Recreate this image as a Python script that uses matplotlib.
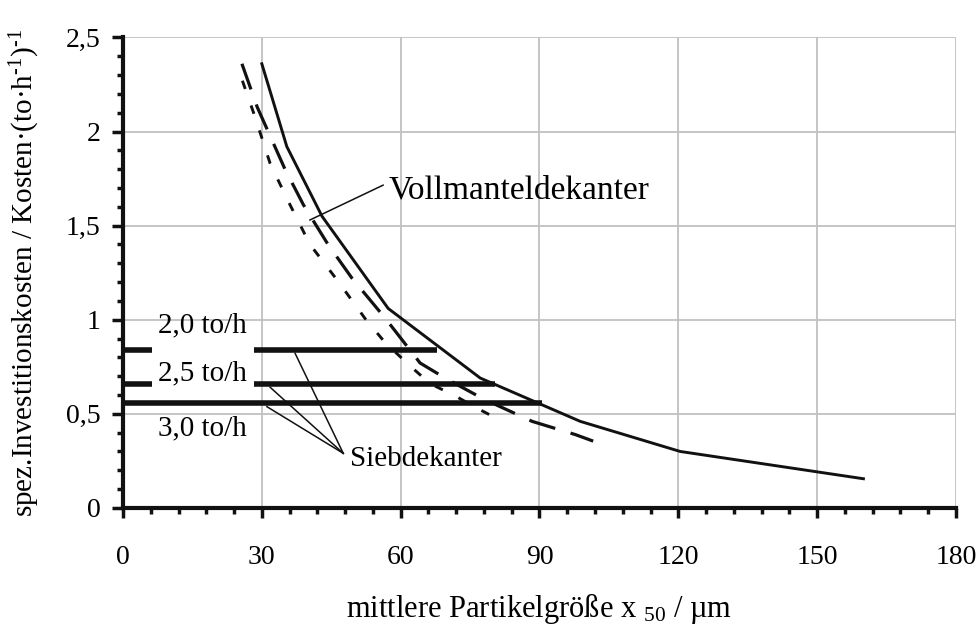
import matplotlib
matplotlib.use("Agg")
import matplotlib.pyplot as plt
from matplotlib.ticker import MultipleLocator

plt.rcParams['font.family'] = ['Liberation Serif', 'DejaVu Serif']
plt.rcParams['mathtext.fontset'] = 'custom'
plt.rcParams['mathtext.rm'] = 'Liberation Serif'
plt.rcParams['mathtext.it'] = 'Liberation Serif:italic'

# --- data -------------------------------------------------------------
x_ticks = [0, 30, 60, 90, 120, 150, 180]
x_tick_labels = ['0', '30', '60', '90', '120', '150', '180']
y_ticks = [0, 0.5, 1.0, 1.5, 2.0, 2.5]
y_tick_labels = ['0', '0,5', '1', '1,5', '2', '2,5']

# Vollmanteldekanter (solid)
voll_x = [30, 35.4, 43, 57.3, 77.2, 98.8, 120.4, 160]
voll_y = [2.36, 1.92, 1.55, 1.06, 0.69, 0.46, 0.30, 0.155]

# Vollmanteldekanter (long dashes)
voll2_x = [25.7, 29, 35, 39, 44.3, 49.5, 56.6, 64.2, 69.6, 77.8, 88.4, 97.7, 101.6]
voll2_y = [2.36, 2.13, 1.80, 1.61, 1.40, 1.22, 1.01, 0.77, 0.69, 0.58, 0.46, 0.39, 0.355]

# Vollmanteldekanter (short dashes)
voll3_x = [25.8, 28.5, 31.8, 35.7, 40.4, 46.3, 52.5, 56.6, 62, 66.4, 71.8, 76.5, 80.4]
voll3_y = [2.27, 2.08, 1.83, 1.63, 1.40, 1.21, 1.00, 0.88, 0.755, 0.66, 0.595, 0.53, 0.48]

# Siebdekanter (horizontal)
sieb_labels = ['2,0 to/h', '2,5 to/h', '3,0 to/h']
sieb_y = [0.84, 0.66, 0.555]
sieb_x_end = [67.8, 80.4, 90.5]
sieb_gap = [(6.2, 28.3), (6.2, 28.3), None]
sieb_label_y = [0.97, 0.715, 0.425]

# --- figure -----------------------------------------------------------
fig = plt.figure(figsize=(9.8, 6.29), dpi=100)
ax = fig.add_axes([0.1255, 0.1925, 0.85, 0.748])

ax.set_xlim(0, 180)
ax.set_ylim(0, 2.5)

ax.grid(True, which='major', color='#c0c0c0', linewidth=1.3)
ax.set_axisbelow(True)

ax.plot(voll_x, voll_y, color='#111111', lw=2.1, solid_joinstyle='miter', zorder=4)
l2, = ax.plot(voll2_x, voll2_y, color='#111111', lw=2.3, zorder=4)
l2.set_dashes([8.5, 5])
l3, = ax.plot(voll3_x, voll3_y, color='#111111', lw=2.1, zorder=4)
l3.set_dashes([3, 6])

for yv, xe, gap in zip(sieb_y, sieb_x_end, sieb_gap):
    if gap is None:
        segs = [(0, xe)]
    else:
        segs = [(0, gap[0]), (gap[1], xe)]
    for a, b in segs:
        ax.plot([a, b], [yv, yv], color='#111111', lw=4.0,
                solid_capstyle='butt', zorder=5, clip_on=False)

fs_sieb = 21
for lab, ly in zip(sieb_labels, sieb_label_y):
    ax.text(7.6, ly, lab, fontsize=fs_sieb, va='center', ha='left', zorder=6)

# annotations
ax.text(57.3, 1.69, 'Vollmanteldekanter', fontsize=24, va='center', ha='left', zorder=6)
ax.plot([56.2, 40.4], [1.715, 1.53], color='#111111', lw=1.1, zorder=6)

ax.text(49.1, 0.262, 'Siebdekanter', fontsize=fs_sieb, va='center', ha='left', zorder=6)
for tx, ty in [(37.2, 0.821), (31.8, 0.641), (31.1, 0.538)]:
    ax.plot([47.6, tx], [0.29, ty], color='#111111', lw=1.1, zorder=6)

# axes styling
for s in ['top', 'right']:
    ax.spines[s].set_visible(False)
for s in ['left', 'bottom']:
    ax.spines[s].set_linewidth(3.0)
    ax.spines[s].set_color('#111111')

ax.set_xticks(x_ticks)
ax.set_xticklabels(x_tick_labels)
ax.set_yticks(y_ticks)
ax.set_yticklabels(y_tick_labels)
ax.xaxis.set_minor_locator(MultipleLocator(6))
ax.yaxis.set_minor_locator(MultipleLocator(0.1))

ax.tick_params(axis='x', which='major', direction='out', length=7, width=2.5,
               pad=20, labelsize=20, color='#111111')
ax.tick_params(axis='x', which='minor', direction='out', length=4, width=2.5,
               color='#111111')
ax.tick_params(axis='y', which='major', direction='out', length=8, width=2.5,
               pad=8, labelsize=20, color='#111111')
ax.tick_params(axis='y', which='minor', direction='out', length=4.5, width=2.5,
               color='#111111')

ax.set_xlabel('mittlere Partikelgröße x $_{\\text{50}}$ / µm', fontsize=22, labelpad=15)
ax.set_ylabel('spez.Investitionskosten / Kosten·(to·h$^{\\text{-1}}$)$^{\\text{-1}}$',
              fontsize=21, labelpad=17)

fig.savefig('out.png', dpi=100)
